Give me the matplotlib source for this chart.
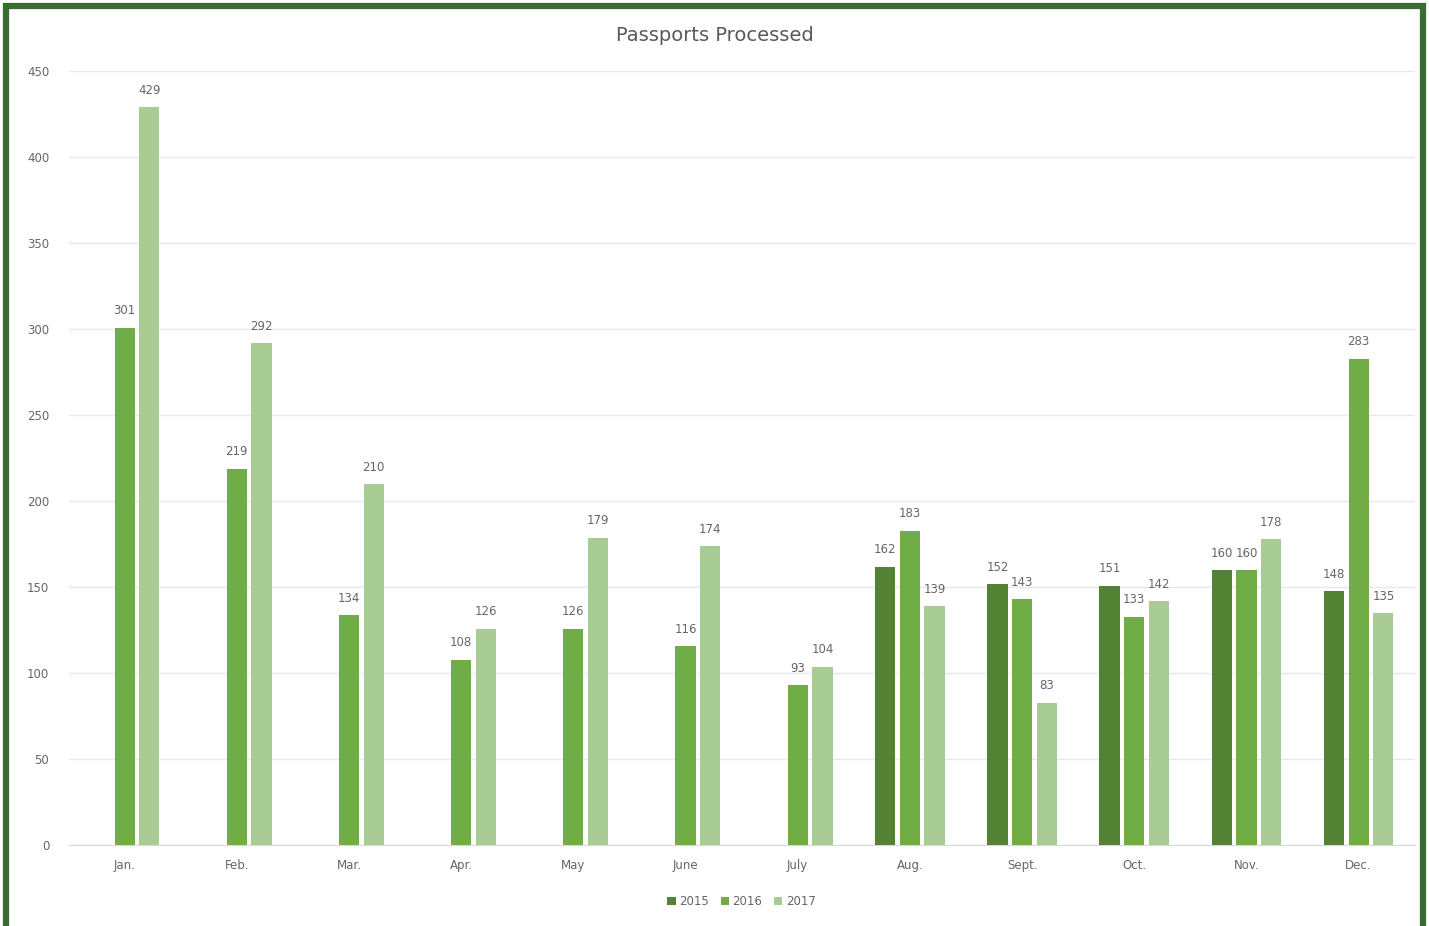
import numpy as np
import matplotlib.pyplot as plt
from matplotlib.patches import Rectangle

months = ['Jan.', 'Feb.', 'Mar.', 'Apr.', 'May', 'June', 'July',
          'Aug.', 'Sept.', 'Oct.', 'Nov.', 'Dec.']
years = ['2015', '2016', '2017']

# no 2015 figures before August
vals_2015 = [np.nan] * 7 + [162, 152, 151, 160, 148]
vals_2016 = [301, 219, 134, 108, 126, 116, 93, 183, 143, 133, 160, 283]
vals_2017 = [429, 292, 210, 126, 179, 174, 104, 139, 83, 142, 178, 135]

colors = ['#548235', '#70AD47', '#A9CC94']
text_grey = '#666666'

fig = plt.figure(figsize=(14.29, 9.26), dpi=100)
ax = fig.add_axes([0.048, 0.087, 0.942, 0.836])

x = np.arange(len(months))
width = 0.18
step = 0.22
series = [vals_2015, vals_2016, vals_2017]
for k, (vals, col, lab) in enumerate(zip(series, colors, years)):
    pos = x + (k - 1) * step
    ax.bar(pos, vals, width, color=col, label=lab, zorder=3)
    for p, v in zip(pos, vals):
        if np.isnan(v):
            continue
        ax.text(p, v + 6, '%d' % v, ha='center', va='bottom',
                fontsize=8.5, color=text_grey)

ax.set_xlim(-0.5, len(months) - 0.5)
ax.set_ylim(0, 450)
ax.set_yticks(np.arange(0, 451, 50))
ax.set_xticks(x)
ax.set_xticklabels(months)
ax.tick_params(axis='both', length=0, labelsize=8.5, colors=text_grey)
ax.tick_params(axis='y', pad=14)
ax.tick_params(axis='x', pad=10)
ax.grid(axis='y', color='#E8E8E8', linewidth=1, zorder=0)
for s in ['top', 'right', 'left']:
    ax.spines[s].set_visible(False)
ax.spines['bottom'].set_color('#D9D9D9')

fig.text(0.5, 0.962, 'Passports Processed', ha='center', va='center',
         fontsize=14, color='#595959')

ax.legend(loc='upper center', bbox_to_anchor=(0.5, -0.05), ncol=3,
          frameon=False, fontsize=8.5, handlelength=0.7, handleheight=0.7,
          handletextpad=0.3, columnspacing=1.0, labelcolor=text_grey)

# dark green frame around the whole chart
fig.patches.append(Rectangle((0.004, -0.01), 0.9915, 1.003,
                             transform=fig.transFigure, fill=False,
                             edgecolor='#3A6B35', linewidth=4.5))

fig.savefig('out.png', dpi=100)
